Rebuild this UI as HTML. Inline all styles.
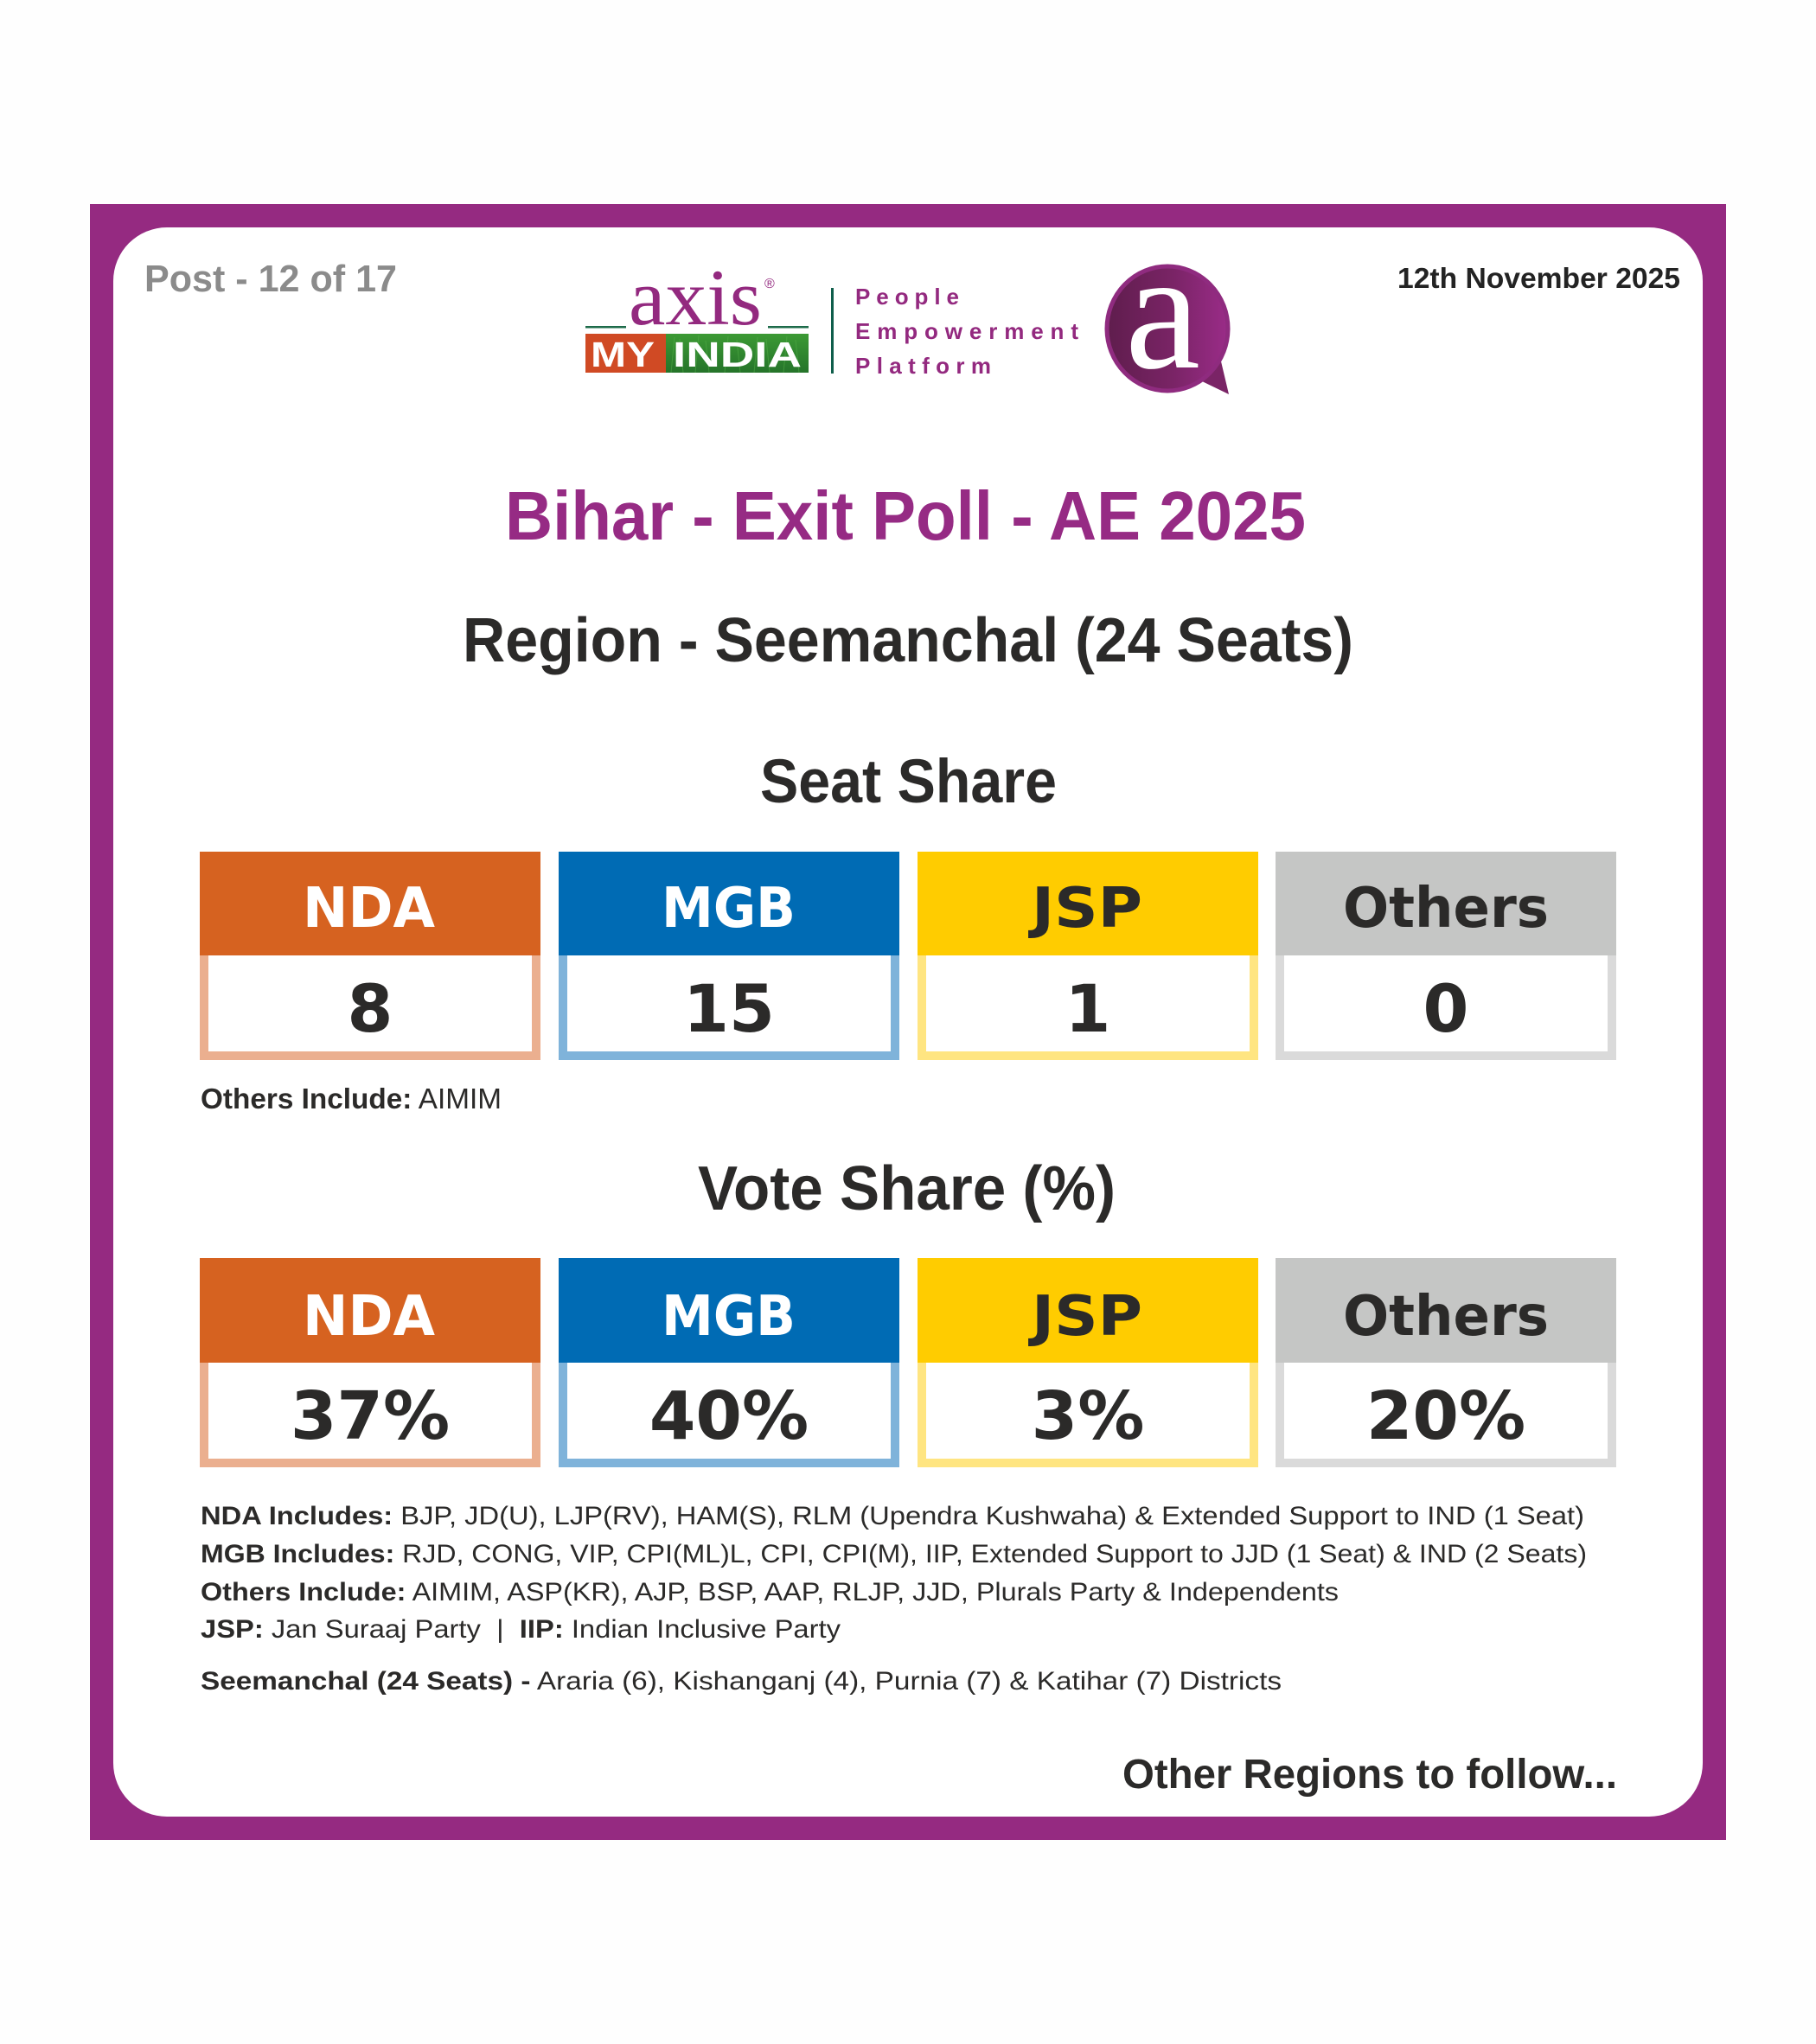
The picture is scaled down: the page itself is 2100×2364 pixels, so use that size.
<!DOCTYPE html>
<html>
<head>
<meta charset="utf-8">
<style>
  html,body{margin:0;padding:0;background:#fefefe;}
  svg{display:block;}
  .cal{font-family:"Liberation Sans",sans-serif;}
  .dv{font-family:"DejaVu Sans","Liberation Sans",sans-serif;font-weight:bold;}
</style>
</head>
<body>
<svg width="2100" height="2364" viewBox="0 0 2100 2364" xmlns="http://www.w3.org/2000/svg">
  <defs>
    <linearGradient id="bub" x1="0" y1="0" x2="1" y2="0">
      <stop offset="0" stop-color="#5f1d4d"/>
      <stop offset="0.55" stop-color="#7a2466"/>
      <stop offset="1" stop-color="#9a2c88"/>
    </linearGradient>
    <linearGradient id="grass" x1="0" y1="0" x2="0" y2="1">
      <stop offset="0" stop-color="#3c9a34"/>
      <stop offset="1" stop-color="#25742a"/>
    </linearGradient>
  </defs>
  <rect x="0" y="0" width="2100" height="2364" fill="#fefefe"/>
  <!-- frame -->
  <rect x="104" y="236" width="1892" height="1892" fill="#952a81"/>
  <rect x="131" y="263" width="1838" height="1838" rx="62" ry="62" fill="#ffffff"/>

  <!-- header texts -->
  <text class="cal" x="167" y="337" font-size="44" font-weight="bold" fill="#8b8b8b" textLength="292" lengthAdjust="spacingAndGlyphs">Post - 12 of 17</text>
  <text class="cal" x="1616" y="333" font-size="33" font-weight="bold" fill="#232323" textLength="327" lengthAdjust="spacingAndGlyphs">12th November 2025</text>

  <!-- axis my india logo -->
  <text x="727" y="375" font-family="'Liberation Serif',serif" font-size="92" fill="#93297f" textLength="154" lengthAdjust="spacingAndGlyphs">axis</text>
  <text x="884" y="333" font-family="'Liberation Sans',sans-serif" font-size="16" fill="#93297f">®</text>
  <rect x="677" y="377" width="47" height="2.5" fill="#1d6b4a"/>
  <rect x="888" y="377" width="47" height="2.5" fill="#1d6b4a"/>
  <rect x="677" y="386" width="93" height="45" fill="#d04a24"/>
  <rect x="770" y="386" width="165" height="45" fill="url(#grass)"/>
  <g stroke="#56b24a" stroke-width="1" opacity="0.5">
    <line x1="776" y1="431" x2="780" y2="390"/><line x1="790" y1="431" x2="786" y2="392"/>
    <line x1="804" y1="431" x2="808" y2="388"/><line x1="820" y1="431" x2="816" y2="394"/>
    <line x1="838" y1="431" x2="842" y2="389"/><line x1="856" y1="431" x2="852" y2="393"/>
    <line x1="872" y1="431" x2="876" y2="390"/><line x1="890" y1="431" x2="886" y2="392"/>
    <line x1="906" y1="431" x2="910" y2="389"/><line x1="924" y1="431" x2="920" y2="393"/>
  </g>
  <text class="cal" x="683" y="424" font-size="41" font-weight="bold" fill="#ffffff" textLength="74" lengthAdjust="spacingAndGlyphs">MY</text>
  <text class="cal" x="778" y="424" font-size="41" font-weight="bold" fill="#ffffff" textLength="149" lengthAdjust="spacingAndGlyphs">INDIA</text>
  <rect x="961" y="333" width="3" height="99" fill="#0f5e4b"/>
  <text class="cal" x="989" y="352" font-size="26" font-weight="bold" fill="#93297f" textLength="120" lengthAdjust="spacing">People</text>
  <text class="cal" x="989" y="392" font-size="26" font-weight="bold" fill="#93297f" textLength="258" lengthAdjust="spacing">Empowerment</text>
  <text class="cal" x="989" y="432" font-size="26" font-weight="bold" fill="#93297f" textLength="157" lengthAdjust="spacing">Platform</text>

  <!-- bubble a -->
  <polygon points="1388,440 1421,456 1412,418" fill="#7a2466"/>
  <ellipse cx="1350" cy="380" rx="70" ry="72" fill="url(#bub)" stroke="#8f2b7f" stroke-width="5"/>
  <text x="1301" y="425" font-family="'Liberation Serif',serif" font-size="196" fill="#ffffff">a</text>

  <!-- titles -->
  <text class="cal" x="584" y="624" font-size="80" font-weight="bold" fill="#962b84" textLength="926" lengthAdjust="spacingAndGlyphs">Bihar - Exit Poll - AE 2025</text>
  <text class="cal" x="535" y="765" font-size="72" font-weight="bold" fill="#2b2a29" textLength="1030" lengthAdjust="spacingAndGlyphs">Region - Seemanchal (24 Seats)</text>
  <text class="cal" x="879" y="928" font-size="71" font-weight="bold" fill="#2b2a29" textLength="343" lengthAdjust="spacingAndGlyphs">Seat Share</text>

  <!-- Seat share boxes -->
  <g>
    <rect x="231" y="985" width="394" height="120" fill="#d66220"/>
    <rect x="231" y="1105" width="394" height="121" fill="#ebaf8f"/>
    <rect x="241" y="1105" width="374" height="111" fill="#ffffff"/>

    <rect x="646" y="985" width="394" height="120" fill="#006bb4"/>
    <rect x="646" y="1105" width="394" height="121" fill="#7fb3da"/>
    <rect x="656" y="1105" width="374" height="111" fill="#ffffff"/>

    <rect x="1061" y="985" width="394" height="120" fill="#ffcc00"/>
    <rect x="1061" y="1105" width="394" height="121" fill="#ffe581"/>
    <rect x="1071" y="1105" width="374" height="111" fill="#ffffff"/>

    <rect x="1475" y="985" width="394" height="120" fill="#c5c6c5"/>
    <rect x="1475" y="1105" width="394" height="121" fill="#dadada"/>
    <rect x="1485" y="1105" width="374" height="111" fill="#ffffff"/>

    <text class="dv" x="350" y="1072" font-size="64" fill="#ffffff" textLength="153" lengthAdjust="spacingAndGlyphs">NDA</text>
    <text class="dv" x="765" y="1072" font-size="64" fill="#ffffff" textLength="155" lengthAdjust="spacingAndGlyphs">MGB</text>
    <text class="dv" x="1193" y="1072" font-size="64" fill="#2b2a29" textLength="128" lengthAdjust="spacingAndGlyphs">JSP</text>
    <text class="dv" x="1553" y="1072" font-size="64" fill="#2b2a29" textLength="238" lengthAdjust="spacingAndGlyphs">Others</text>

    <text class="dv" x="428" y="1193" font-size="76" fill="#2b2a29" text-anchor="middle">8</text>
    <text class="dv" x="843" y="1193" font-size="76" fill="#2b2a29" text-anchor="middle">15</text>
    <text class="dv" x="1258" y="1193" font-size="76" fill="#2b2a29" text-anchor="middle">1</text>
    <text class="dv" x="1672" y="1193" font-size="76" fill="#2b2a29" text-anchor="middle">0</text>
  </g>

  <text class="cal" x="232" y="1282" font-size="33" fill="#2b2a29" textLength="348" lengthAdjust="spacingAndGlyphs"><tspan font-weight="bold">Others Include:</tspan> AIMIM</text>

  <text class="cal" x="807" y="1399" font-size="72" font-weight="bold" fill="#2b2a29" textLength="483" lengthAdjust="spacingAndGlyphs">Vote Share (%)</text>

  <!-- Vote share boxes -->
  <g>
    <rect x="231" y="1455" width="394" height="121" fill="#d66220"/>
    <rect x="231" y="1576" width="394" height="121" fill="#ebaf8f"/>
    <rect x="241" y="1576" width="374" height="111" fill="#ffffff"/>

    <rect x="646" y="1455" width="394" height="121" fill="#006bb4"/>
    <rect x="646" y="1576" width="394" height="121" fill="#7fb3da"/>
    <rect x="656" y="1576" width="374" height="111" fill="#ffffff"/>

    <rect x="1061" y="1455" width="394" height="121" fill="#ffcc00"/>
    <rect x="1061" y="1576" width="394" height="121" fill="#ffe581"/>
    <rect x="1071" y="1576" width="374" height="111" fill="#ffffff"/>

    <rect x="1475" y="1455" width="394" height="121" fill="#c5c6c5"/>
    <rect x="1475" y="1576" width="394" height="121" fill="#dadada"/>
    <rect x="1485" y="1576" width="374" height="111" fill="#ffffff"/>

    <text class="dv" x="350" y="1544" font-size="64" fill="#ffffff" textLength="153" lengthAdjust="spacingAndGlyphs">NDA</text>
    <text class="dv" x="765" y="1544" font-size="64" fill="#ffffff" textLength="155" lengthAdjust="spacingAndGlyphs">MGB</text>
    <text class="dv" x="1193" y="1544" font-size="64" fill="#2b2a29" textLength="128" lengthAdjust="spacingAndGlyphs">JSP</text>
    <text class="dv" x="1553" y="1544" font-size="64" fill="#2b2a29" textLength="238" lengthAdjust="spacingAndGlyphs">Others</text>

    <text class="dv" x="428" y="1664" font-size="77" fill="#2b2a29" text-anchor="middle">37%</text>
    <text class="dv" x="843" y="1664" font-size="77" fill="#2b2a29" text-anchor="middle">40%</text>
    <text class="dv" x="1258" y="1664" font-size="77" fill="#2b2a29" text-anchor="middle">3%</text>
    <text class="dv" x="1672" y="1664" font-size="77" fill="#2b2a29" text-anchor="middle">20%</text>
  </g>

  <!-- footnotes -->
  <g class="cal" font-size="30" fill="#2b2a29">
    <text x="232" y="1763" textLength="1600" lengthAdjust="spacingAndGlyphs"><tspan font-weight="bold">NDA Includes:</tspan> BJP, JD(U), LJP(RV), HAM(S), RLM (Upendra Kushwaha) &amp; Extended Support to IND (1 Seat)</text>
    <text x="232" y="1807" textLength="1603" lengthAdjust="spacingAndGlyphs"><tspan font-weight="bold">MGB Includes:</tspan> RJD, CONG, VIP, CPI(ML)L, CPI, CPI(M), IIP, Extended Support to JJD (1 Seat) &amp; IND (2 Seats)</text>
    <text x="232" y="1851" textLength="1316" lengthAdjust="spacingAndGlyphs"><tspan font-weight="bold">Others Include:</tspan> AIMIM, ASP(KR), AJP, BSP, AAP, RLJP, JJD, Plurals Party &amp; Independents</text>
    <text x="232" y="1894" textLength="740" lengthAdjust="spacingAndGlyphs"><tspan font-weight="bold">JSP:</tspan> Jan Suraaj Party &#160;|&#160; <tspan font-weight="bold">IIP:</tspan> Indian Inclusive Party</text>
    <text x="232" y="1954" textLength="1250" lengthAdjust="spacingAndGlyphs"><tspan font-weight="bold">Seemanchal (24 Seats) -</tspan> Araria (6), Kishanganj (4), Purnia (7) &amp; Katihar (7) Districts</text>
  </g>

  <text class="cal" x="1298" y="2068" font-size="48" font-weight="bold" fill="#2b2a29" textLength="572" lengthAdjust="spacingAndGlyphs">Other Regions to follow...</text>
</svg>
</body>
</html>
